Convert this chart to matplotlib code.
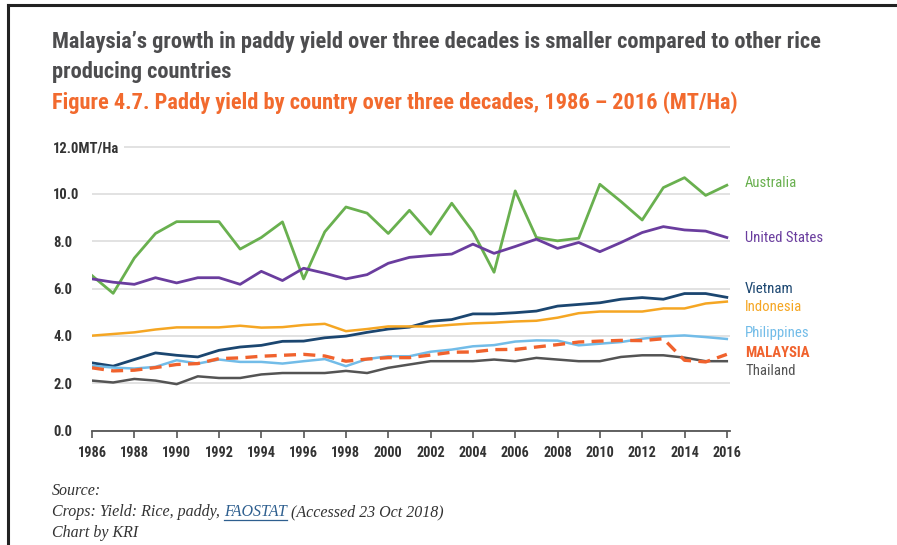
import matplotlib
matplotlib.use("Agg")
import matplotlib.pyplot as plt
from matplotlib.lines import Line2D

years = list(range(1986, 2017))

australia = [6.55, 5.8, 7.29, 8.33, 8.83, 8.83, 8.83, 7.67, 8.16, 8.82,
             6.41, 8.4, 9.45, 9.19, 8.33, 9.31, 8.3, 9.61, 8.4, 6.69,
             10.13, 8.16, 8.02, 8.13, 10.41, 9.68, 8.9, 10.27, 10.69, 9.94, 10.37]
united_states = [6.41, 6.27, 6.18, 6.46, 6.24, 6.46, 6.46, 6.18, 6.73, 6.34,
                 6.86, 6.65, 6.41, 6.59, 7.07, 7.32, 7.4, 7.46, 7.88, 7.49,
                 7.78, 8.09, 7.7, 7.95, 7.56, 7.95, 8.37, 8.62, 8.48, 8.43, 8.16]
vietnam = [2.86, 2.72, 3.0, 3.28, 3.18, 3.11, 3.39, 3.53, 3.6, 3.77,
           3.78, 3.92, 3.99, 4.15, 4.29, 4.37, 4.62, 4.69, 4.93, 4.93,
           4.98, 5.05, 5.26, 5.33, 5.4, 5.55, 5.62, 5.55, 5.79, 5.79, 5.63]
indonesia = [4.01, 4.08, 4.15, 4.27, 4.36, 4.36, 4.36, 4.43, 4.35, 4.37,
             4.46, 4.51, 4.2, 4.29, 4.4, 4.4, 4.4, 4.47, 4.53, 4.56,
             4.61, 4.64, 4.77, 4.96, 5.03, 5.03, 5.03, 5.16, 5.16, 5.37, 5.45]
philippines = [2.74, 2.66, 2.62, 2.69, 2.97, 2.83, 3.0, 2.9, 2.9, 2.83,
               2.93, 3.02, 2.72, 3.02, 3.14, 3.14, 3.33, 3.42, 3.56, 3.61,
               3.76, 3.81, 3.8, 3.6, 3.67, 3.74, 3.88, 3.98, 4.02, 3.95, 3.87]
malaysia = [2.65, 2.52, 2.55, 2.66, 2.79, 2.83, 3.04, 3.07, 3.14, 3.18,
            3.22, 3.15, 2.93, 3.02, 3.08, 3.08, 3.19, 3.31, 3.32, 3.42,
            3.43, 3.53, 3.63, 3.74, 3.78, 3.81, 3.8, 3.88, 2.97, 2.9, 3.22]
thailand = [2.11, 2.03, 2.18, 2.11, 1.96, 2.29, 2.22, 2.22, 2.37, 2.43,
            2.43, 2.43, 2.52, 2.43, 2.65, 2.79, 2.93, 2.93, 2.93, 3.0,
            2.93, 3.07, 3.0, 2.93, 2.93, 3.11, 3.18, 3.18, 3.08, 2.93, 2.93]

x_ticks = list(range(1986, 2017, 2))
y_ticks = [0, 2, 4, 6, 8, 10, 12]
y_tick_labels = ["0.0", "2.0", "4.0", "6.0", "8.0", "10.0", "12.0MT/Ha"]

NARROW = ["Roboto Condensed", "Liberation Sans Narrow", "Roboto", "DejaVu Sans"]
SERIF = ["Liberation Serif", "DejaVu Serif"]

fig = plt.figure(figsize=(8.97, 5.45), dpi=100)
renderer = fig.canvas.get_renderer()


def fit_size(text, target_px, family, weight="normal", style="normal"):
    t = fig.text(0, 0, text, fontsize=10, family=family, fontweight=weight,
                 fontstyle=style)
    w = t.get_window_extent(renderer).width
    t.remove()
    return 10 * target_px / w


ax = fig.add_axes([92 / 897, 114.5 / 545, (730 - 92) / 897, 285 / 545])

series = [
    ("Australia", australia, "#69b04f", "-", 2.0, 183, "normal"),
    ("United States", united_states, "#6a3d9e", "-", 2.0, 238, "normal"),
    ("Vietnam", vietnam, "#1b4670", "-", 2.0, 289, "normal"),
    ("Indonesia", indonesia, "#f5a623", "-", 1.8, 307, "normal"),
    ("Philippines", philippines, "#72bce8", "-", 1.8, 333, "normal"),
    ("Thailand", thailand, "#545454", "-", 1.8, 371, "normal"),
    ("MALAYSIA", malaysia, "#f0622d", "--", 2.4, 353, "bold"),
]

lab_size = fit_size("United States", 77, NARROW)
for name, vals, color, ls, lw, label_y, weight in series:
    if ls == "--":
        ax.plot(years, vals, color=color, lw=lw, ls=(0, (3.6, 2.2)), zorder=4)
    else:
        ax.plot(years, vals, color=color, lw=lw, ls=ls, zorder=3)
    fig.text(745 / 897, 1 - label_y / 545, name, color=color, fontsize=lab_size,
             family=NARROW, fontweight=weight, ha="left", va="center")

tick_size_x = fit_size("1986", 29, NARROW, weight="bold")
tick_size_y = fit_size("12.0MT/Ha", 66, NARROW, weight="bold")

ax.set_xlim(1986, 2016.15)
ax.set_ylim(0, 12.05)
ax.set_xticks(x_ticks)
ax.set_xticklabels([str(y) for y in x_ticks], family=NARROW, fontweight="bold",
                   fontsize=tick_size_x, color="#333333")
ax.set_yticks(y_ticks)
ax.set_yticklabels(y_tick_labels, family=NARROW, fontweight="bold",
                   fontsize=tick_size_y, color="#333333", ha="left")
for lab in ax.get_yticklabels():
    if "MT" in lab.get_text():
        lab.set_bbox(dict(facecolor="white", edgecolor="none", pad=3))

ax.grid(axis="y", color="#dddddd", lw=1.2, zorder=0)
ax.set_axisbelow(True)
for s in ["top", "right", "left"]:
    ax.spines[s].set_visible(False)
ax.spines["bottom"].set_color("#555555")
ax.spines["bottom"].set_linewidth(1.3)
ax.tick_params(axis="y", length=0, pad=28)
ax.tick_params(axis="x", length=5, width=1.2, color="#555555", pad=6)

title1 = "Malaysia\u2019s growth in paddy yield over three decades is smaller compared to other rice"
title_size = fit_size(title1, 770, NARROW, weight="bold")
fig.text(52 / 897, 1 - 42 / 545, title1,
         family=NARROW, fontweight="bold", fontsize=title_size, color="#4d4d4f", va="center")
fig.text(52 / 897, 1 - 72 / 545, "producing countries",
         family=NARROW, fontweight="bold", fontsize=title_size, color="#4d4d4f", va="center")
fig.text(52 / 897, 1 - 103 / 545,
         "Figure 4.7. Paddy yield by country over three decades, 1986 \u2013 2016 (MT/Ha)",
         family=NARROW, fontweight="bold", fontsize=title_size, color="#f26a2e", va="center")

src_full = "Crops: Yield: Rice, paddy, FAOSTAT (Accessed 23 Oct 2018)"
src_size = fit_size(src_full, 391, SERIF, style="italic")
fig.text(52 / 897, 1 - 491 / 545, "Source:", family=SERIF, style="italic",
         fontsize=src_size, color="#333333", va="center")
t1 = fig.text(52 / 897, 1 - 512 / 545, "Crops: Yield: Rice, paddy, ", family=SERIF,
              style="italic", fontsize=src_size, color="#333333", va="center")
bb = t1.get_window_extent(renderer)
t2 = fig.text(bb.x1 / 897, 1 - 512 / 545, "FAOSTAT", family=SERIF, style="italic",
              fontsize=src_size, color="#2e5f8f", va="center")
bb2 = t2.get_window_extent(renderer)
fig.add_artist(Line2D([bb2.x0 / 897, bb2.x1 / 897], [(bb2.y0 + 0.5) / 545] * 2,
                      color="#2e5f8f", lw=0.9))
fig.text(bb2.x1 / 897, 1 - 512 / 545, " (Accessed 23 Oct 2018)", family=SERIF,
         style="italic", fontsize=src_size, color="#333333", va="center")
fig.text(52 / 897, 1 - 533 / 545, "Chart by KRI", family=SERIF, style="italic",
         fontsize=src_size, color="#333333", va="center")

# outer frame (top and left edges visible)
fig.add_artist(Line2D([8 / 897, 8 / 897], [0, 1 - 5 / 545], color="#222222", lw=2.2))
fig.add_artist(Line2D([8 / 897, 1], [1 - 5 / 545, 1 - 5 / 545], color="#222222", lw=2.2))

fig.savefig("out.png", dpi=100)
